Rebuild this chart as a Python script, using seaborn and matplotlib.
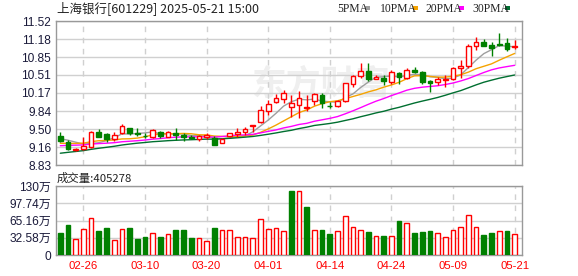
import numpy as np
import pandas as pd
import matplotlib
matplotlib.use("Agg")
import matplotlib.pyplot as plt
from matplotlib.patches import Rectangle
import seaborn as sns

# ---------------- data ----------------
title_text = "上海银行[601229] 2025-05-21 15:00"
volume_title = "成交量:405278"
ma_names = ["5PMA", "10PMA", "20PMA", "30PMA"]
ma_windows = [5, 10, 20, 30]

holidays = ["2025-04-04", "2025-05-01", "2025-05-02", "2025-05-05"]
dates = [d for d in pd.bdate_range("2025-02-21", "2025-05-21") if d.strftime("%Y-%m-%d") not in holidays]
date_labels = [d.strftime("%m-%d") for d in dates]

opens = [9.37, 9.265, 9.105, 9.123, 9.172, 9.44, 9.403, 9.315, 9.421, 9.515,
         9.43, 9.38, 9.347, 9.44, 9.358, 9.421, 9.39, 9.36, 9.31, 9.345,
         9.33, 9.25, 9.37, 9.41, 9.45, 9.55, 9.64, 9.84, 10.00, 10.056,
         9.92, 9.96, 9.90, 10.02, 10.14, 9.935, 9.93, 10.02, 10.34, 10.49,
         10.59, 10.44, 10.46, 10.385, 10.54, 10.46, 10.60, 10.56, 10.40, 10.385,
         10.41, 10.43, 10.65, 10.685, 11.06, 11.125, 11.07, 11.09, 11.10, 11.03]
highs = [9.45, 9.297, 9.153, 9.358, 9.465, 9.502, 9.421, 9.452, 9.595, 9.527,
         9.515, 9.43, 9.496, 9.465, 9.465, 9.515, 9.42, 9.39, 9.39, 9.42,
         9.38, 9.33, 9.43, 9.53, 9.545, 9.575, 9.93, 10.04, 10.155, 10.23,
         10.13, 10.21, 10.13, 10.17, 10.17, 10.01, 10.04, 10.36, 10.51, 10.73,
         10.73, 10.52, 10.51, 10.60, 10.56, 10.65, 10.665, 10.59, 10.42, 10.47,
         10.51, 10.67, 10.80, 11.09, 11.225, 11.19, 11.12, 11.30, 11.21, 11.16]
lows = [9.265, 9.11, 9.097, 9.11, 9.153, 9.347, 9.265, 9.284, 9.403, 9.39,
        9.37, 9.33, 9.33, 9.34, 9.347, 9.30, 9.27, 9.31, 9.27, 9.32,
        9.20, 9.24, 9.36, 9.36, 9.39, 9.45, 9.61, 9.76, 9.98, 9.98,
        9.72, 9.70, 9.83, 9.95, 9.89, 9.90, 9.92, 10.01, 10.28, 10.45,
        10.39, 10.43, 10.33, 10.35, 10.34, 10.43, 10.54, 10.34, 10.20, 10.32,
        10.29, 10.42, 10.45, 10.65, 10.98, 11.05, 10.87, 11.06, 10.96, 10.99]
closes = [9.284, 9.12, 9.125, 9.19, 9.44, 9.358, 9.315, 9.39, 9.558, 9.421,
          9.41, 9.37, 9.483, 9.37, 9.446, 9.39, 9.36, 9.33, 9.37, 9.39,
          9.20, 9.31, 9.42, 9.45, 9.50, 9.57, 9.857, 9.97, 10.075, 10.18,
          9.98, 10.09, 9.91, 10.15, 9.98, 9.93, 10.03, 10.355, 10.49, 10.58,
          10.44, 10.48, 10.405, 10.56, 10.48, 10.60, 10.57, 10.385, 10.355, 10.435,
          10.445, 10.65, 10.68, 11.05, 11.12, 11.05, 11.02, 11.07, 10.99, 11.06]
# closes of the 29 sessions before the first shown day (only feed the moving averages)
prior_closes = [8.62, 8.66, 8.70, 8.72, 8.75, 8.78, 8.82, 8.85, 8.88, 8.92,
                8.98, 9.05, 9.10, 9.14, 9.16, 9.18, 9.20, 9.21, 9.22, 9.21,
                9.12, 9.15, 9.14, 9.16, 9.18, 9.26, 9.31, 9.36, 9.39]
volumes_wan = [42.0, 56.5, 29.5, 48.4, 69.1, 45.2, 50.9, 28.3, 48.4, 50.9,
               30.1, 33.9, 41.4, 33.9, 39.6, 47.1, 47.1, 32.0, 32.0, 26.4,
               50.9, 47.1, 47.1, 33.9, 33.9, 32.0, 67.2, 49.0, 50.9, 45.2,
               121.2, 120.0, 90.4, 47.1, 47.1, 39.6, 44.6, 73.5, 52.1, 47.1,
               43.3, 35.8, 35.8, 35.8, 64.1, 60.3, 41.4, 43.3, 45.2, 41.4,
               33.9, 47.1, 52.8, 75.4, 52.8, 37.7, 41.4, 45.2, 45.2, 40.53]

price_tick_labels = ["8.83", "9.16", "9.50", "9.84", "10.17", "10.51", "10.85", "11.18", "11.52"]
price_min, price_max = 8.83, 11.52
vol_tick_labels = ["0", "32.58万", "65.16万", "97.74万", "130万"]
vol_max = 130.32
x_tick_labels = ["02-26", "03-10", "03-20", "04-01", "04-14", "04-24", "05-09", "05-21"]

# ---------------- style ----------------
RED = "#ff0000"
GREEN = "#008000"
ma_colors = ["#9e9e9e", "#f5a300", "#ff00ff", "#006f30"]
GRID = "#d0d0d0"
SPINE = "#999999"

sns.set_theme(style="white")
plt.rcParams["font.family"] = ["Liberation Sans", "Noto Sans CJK SC", "DejaVu Sans"]
cjk = ["Noto Sans CJK SC", "DejaVu Sans"]

W, H = 578, 276
fig = plt.figure(figsize=(W / 100, H / 100), dpi=100)
fig.patch.set_facecolor("white")

L, R = 56, 522
ax1 = fig.add_axes([L / W, 1 - 165 / H, (R - L) / W, (165 - 21) / H])
ax2 = fig.add_axes([L / W, 1 - 255 / H, (R - L) / W, (255 - 186) / H])

n = len(closes)
idx = np.arange(n)
o = np.array(opens); h = np.array(highs); lo = np.array(lows); c = np.array(closes)
up = c >= o
all_closes = pd.Series(prior_closes + closes)
prev_close = np.array(([prior_closes[-1]] + closes)[:-1])
vol_up = c >= prev_close

xlim = (-0.56, n - 1 + 0.96)

# watermark
ax1.text(0.57, 0.56, "东方财富", transform=ax1.transAxes, ha="center", va="center",
         fontsize=25, fontweight="bold", color="#efefef", family=cjk, zorder=0)

# moving averages
for name, win, col in zip(ma_names, ma_windows, ma_colors):
    ma = all_closes.rolling(win).mean().to_numpy()[len(prior_closes):]
    sns.lineplot(x=idx, y=ma, ax=ax1, color=col, lw=1.0, estimator=None, zorder=2)

# candles
wick_cols = [RED if u else GREEN for u in up]
ax1.vlines(idx, lo, h, colors=wick_cols, lw=1.0, zorder=3)
body_bottom = np.minimum(o, c)
body_h = np.maximum(np.abs(c - o), 0.006)
ax1.bar(idx, body_h, bottom=body_bottom, width=0.62,
        facecolor=["white" if u else GREEN for u in up],
        edgecolor=wick_cols, lw=1.0, zorder=4)

ax1.set_xlim(*xlim)
ax1.set_ylim(price_min, price_max)
ax1.set_yticks(np.linspace(price_min, price_max, len(price_tick_labels)))
ax1.set_yticklabels(price_tick_labels)

tick_idx = [date_labels.index(t) for t in x_tick_labels]

# volume bars
vdf = pd.DataFrame({"i": idx, "v": volumes_wan})
sns.barplot(data=vdf, x="i", y="v", ax=ax2, native_scale=True, width=0.62,
            color=GREEN, saturation=1, zorder=3)
for p, u in zip(ax2.patches, vol_up):
    p.set_facecolor("white" if u else GREEN)
    p.set_edgecolor(RED if u else GREEN)
    p.set_linewidth(1.0)
ax2.set_xlim(*xlim)
ax2.set_ylim(0, vol_max)
ax2.set_yticks(np.linspace(0, vol_max, len(vol_tick_labels)))
ax2.set_yticklabels(vol_tick_labels)
ax2.set_xlabel(""); ax2.set_ylabel("")
ax1.set_xlabel(""); ax1.set_ylabel("")

for ax in (ax1, ax2):
    ax.set_xticks(tick_idx)
    ax.grid(axis="y", color=GRID, lw=1.0, ls="-", zorder=0)
    ax.grid(axis="x", color=GRID, lw=1.0, ls=(0, (4, 4)), zorder=0)
    ax.set_axisbelow(True)
    for s in ax.spines.values():
        s.set_color(SPINE); s.set_linewidth(1.0); s.set_visible(True)
    ax.tick_params(axis="both", length=0, pad=3.5)
    for t in ax.get_yticklabels():
        t.set_fontsize(8.6); t.set_color("#1a1a3a")
ax1.set_xticklabels([])
ax2.set_xticklabels(x_tick_labels)
for t in ax2.get_xticklabels():
    t.set_fontsize(8.2); t.set_color(RED)
ax2.tick_params(axis="x", pad=4)

# titles
fig.text(57 / W, 1 - 8.5 / H, title_text, ha="left", va="center", fontsize=9,
         color="#222222", family=cjk)
fig.text(57 / W, 1 - 178 / H, volume_title, ha="left", va="center", fontsize=8.2,
         color="#222222", family=cjk)

# legend
leg_x = [337, 380, 425, 472]
sq_x = [365, 413, 459, 505]
for name, col, tx, sx in zip(ma_names, ma_colors, leg_x, sq_x):
    fig.text(tx / W, 1 - 8.5 / H, name, ha="left", va="center", fontsize=8.4,
             color="#222222", family=["Liberation Serif", "DejaVu Serif"])
    fig.add_artist(Rectangle((sx / W, 1 - 10 / H), 5 / W, 3.5 / H,
                             transform=fig.transFigure, facecolor=col, edgecolor="none"))

fig.savefig("out.png", dpi=100, facecolor="white")
